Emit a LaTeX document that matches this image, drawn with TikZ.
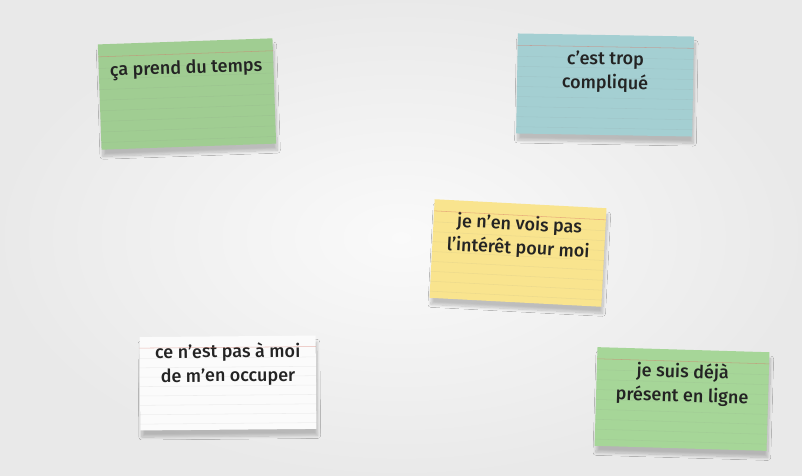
\documentclass[tikz,border=0pt]{standalone}
\usepackage{fontspec}
\setmainfont{Fira Sans}[UprightFont = * Medium]
\usetikzlibrary{calc, shadows.blur}
\definecolor{vertfiche}{RGB}{160,205,146}
\definecolor{vertclair}{RGB}{166,214,152}
\definecolor{bleufiche}{RGB}{164,207,210}
\definecolor{jaunefiche}{RGB}{249,228,142}
\definecolor{blancfiche}{RGB}{251,251,251}
\definecolor{traitrouge}{RGB}{214,118,104}
\definecolor{encre}{RGB}{35,35,35}
\begin{document}
\begin{tikzpicture}[x = .75pt, y = -.75pt,
  fiche/.style n args = {4}{fill = #1, inner sep = 0pt, minimum width = #2, text = encre,
    font = \fontsize{13.5}{18}\selectfont,
    blur shadow = {shadow xshift = 1pt, shadow yshift = -5pt, shadow opacity = 22, shadow blur steps = 10},
    execute at begin node = {\begin{minipage}[c][#3][t]{#2}\centering\vspace*{#4}},
    execute at end node = {\end{minipage}}},
  ligne/.style = {gray, opacity = .1, line width = .4pt}
]
\useasboundingbox (0, 0) rectangle (802, 475);
\shade[inner color = gray!4, outer color = gray!17] (0, 0) rectangle (802, 475);
\node[fiche = {vertfiche}{131pt}{79pt}{14pt}, rotate = 2] (prend) at (187, 94) {ça prend du temps};
\node[fiche = {bleufiche}{132pt}{75pt}{12pt}, rotate = -1] (trop) at (605, 85) {c'est trop\\compliqué};
\node[fiche = {jaunefiche}{129pt}{74pt}{9pt}, rotate = -3] (interet) at (518, 253) {je n'en vois pas\\l'intérêt pour moi};
\node[fiche = {blancfiche}{132pt}{70pt}{5pt}, rotate = .5] (occuper) at (228, 383) {ce n'est pas à moi\\de m'en occuper};
\node[fiche = {vertclair}{129pt}{74pt}{10pt}, rotate = -1.7] (ligne) at (682, 399) {je suis déjà\\présent en ligne};
\foreach \c in {prend, trop, interet, occuper, ligne}{
  \draw[traitrouge, opacity = .5] ($(\c.north west)!.12!(\c.south west)$) -- ($(\c.north east)!.12!(\c.south east)$); % marge
  \foreach \k in {.23, .33, ..., .95}
    \draw[ligne] ($(\c.north west)!\k!(\c.south west)$) -- ($(\c.north east)!\k!(\c.south east)$);
}
\end{tikzpicture}
\end{document}
